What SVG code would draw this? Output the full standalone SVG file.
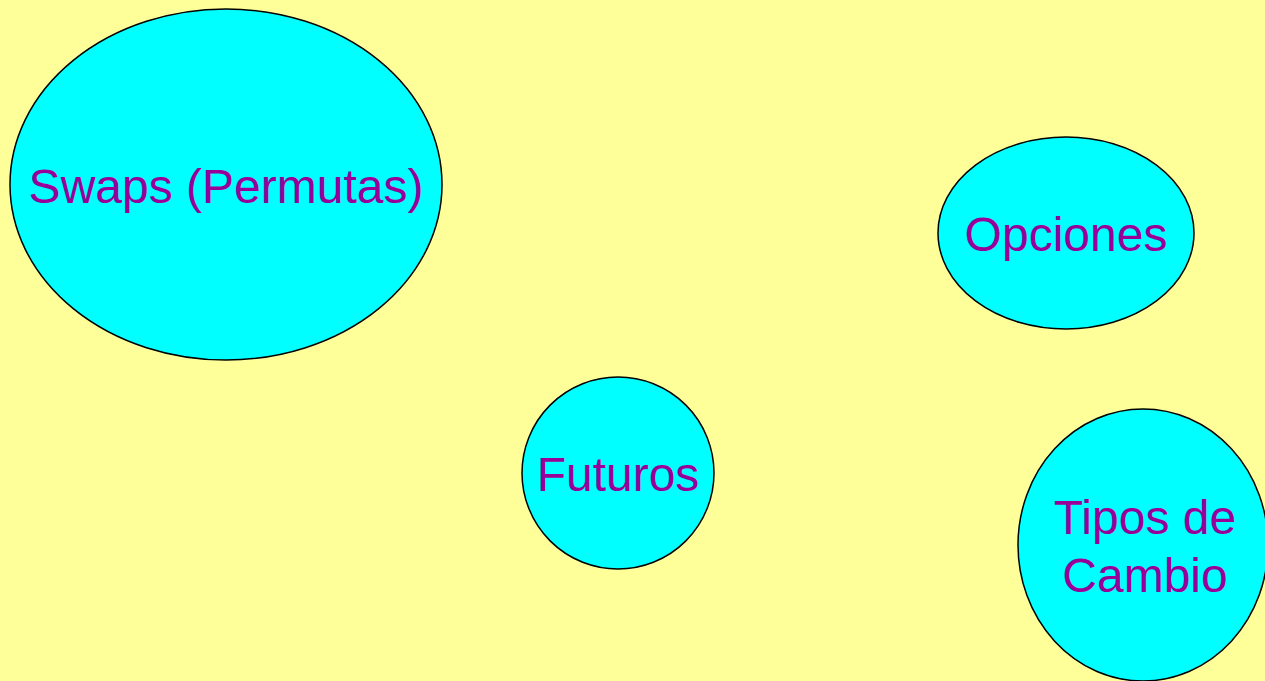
<svg xmlns="http://www.w3.org/2000/svg" width="1265" height="681" viewBox="0 0 1265 681">
<style>
.n{fill:#00FFFF;stroke:#000000;stroke-width:1.5}
.t{font-family:"Liberation Sans",Arial,sans-serif;font-size:48px;fill:#990099;text-anchor:middle}
</style>
<rect x="0" y="0" width="1265" height="681" fill="#FFFF99"/>
<g id="connectors"></g>
<g id="swaps">
<ellipse class="n" cx="226" cy="184.5" rx="216" ry="175.5"/>
<text class="t" x="226" y="203">Swaps (Permutas)</text>
</g>
<g id="opciones">
<ellipse class="n" cx="1066" cy="233" rx="128" ry="96"/>
<text class="t" x="1066" y="251">Opciones</text>
</g>
<g id="futuros">
<ellipse class="n" cx="618" cy="473" rx="96" ry="96"/>
<text class="t" x="618" y="491">Futuros</text>
</g>
<g id="tipos">
<ellipse class="n" cx="1143" cy="545" rx="125" ry="136"/>
<text class="t" x="1145" y="534">Tipos de</text>
<text class="t" x="1145" y="592">Cambio</text>
</g>
</svg>
